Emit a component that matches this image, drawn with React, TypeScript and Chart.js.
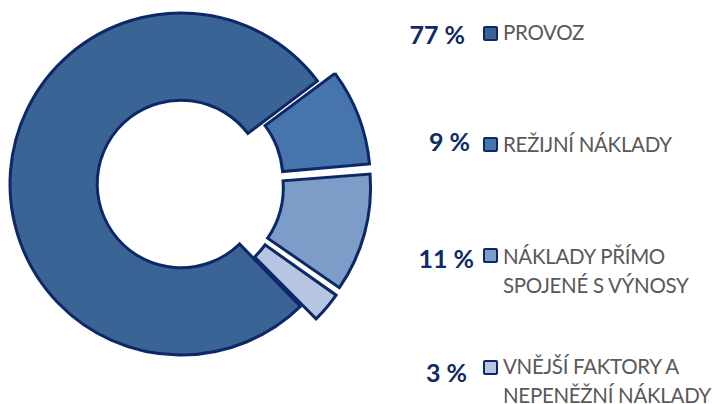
import React, { useEffect, useRef } from "react";
import { Chart, registerables } from "chart.js";

Chart.register(...registerables);

const categories = ["PROVOZ", "REŽIJNÍ NÁKLADY", "NÁKLADY PŘÍMO SPOJENÉ S VÝNOSY", "VNĚJŠÍ FAKTORY A NEPENĚŽNÍ NÁKLADY"];
const values = [77, 9, 11, 3];
const percentLabels = ["77 %", "9 %", "11 %", "3 %"];
const legendLines = [["PROVOZ"], ["REŽIJNÍ NÁKLADY"], ["NÁKLADY PŘÍMO", "SPOJENÉ S VÝNOSY"], ["VNĚJŠÍ FAKTORY A", "NEPENĚŽNÍ NÁKLADY"]];
const colors = ["#3b6496", "#4675ad", "#7e9cc8", "#b5c5e2"];
const offsets = [0, 52, 56, 44];
const borderColor = "#0d2866";

// legend layout
const rowTops = [18, 130, 242, 352];
const markerTops = [26, 137, 248, 360];
const pctTops = [22, 129, 246, 360];
const pctRight = [465, 470, 474, 467];

export default function App() {
  const ref = useRef<HTMLCanvasElement>(null);
  useEffect(() => {
    if (!ref.current) return;
    const chart = new Chart(ref.current, {
      type: "doughnut",
      data: {
        labels: categories,
        datasets: [
          {
            data: values,
            backgroundColor: colors,
            borderColor: borderColor,
            borderWidth: 3,
            borderJoinStyle: "miter",
            offset: offsets,
          },
        ],
      },
      options: {
        animation: false,
        responsive: true,
        maintainAspectRatio: false,
        rotation: 135.7,
        radius: 171,
        cutout: "49%",
        layout: { padding: { left: 0, top: 0, right: 38, bottom: 36 } },
        plugins: { legend: { display: false }, tooltip: { enabled: false } },
      },
    });
    return () => chart.destroy();
  }, []);

  return (
    <div style={{ position: "fixed", left: 0, top: 0, width: 714, height: 404, background: "#fff", overflow: "hidden" }}>
      <div style={{ position: "absolute", left: 0, top: 0, width: 400, height: 404 }}>
        <canvas ref={ref} />
      </div>
      {values.map((v, i) => (
        <React.Fragment key={i}>
          <div
            style={{
              position: "absolute",
              right: 714 - pctRight[i],
              top: pctTops[i],
              fontFamily: "Lato, sans-serif",
              fontWeight: 700,
              fontSize: 25,
              lineHeight: "25px",
              color: "#0f2a66",
              whiteSpace: "nowrap",
            }}
          >
            {percentLabels[i]}
          </div>
          <div
            style={{
              position: "absolute",
              left: 483,
              top: markerTops[i],
              width: 11,
              height: 11,
              background: colors[i],
              border: `2.5px solid ${borderColor}`,
              borderRadius: 2,
            }}
          />
          <div
            style={{
              position: "absolute",
              left: 503,
              top: rowTops[i],
              fontFamily: "Lato, sans-serif",
              fontSize: 20.5,
              letterSpacing: -0.3,
              lineHeight: "29px",
              color: "#595959",
              whiteSpace: "nowrap",
            }}
          >
            {legendLines[i].map((l, j) => (
              <div key={j}>{l}</div>
            ))}
          </div>
        </React.Fragment>
      ))}
    </div>
  );
}
